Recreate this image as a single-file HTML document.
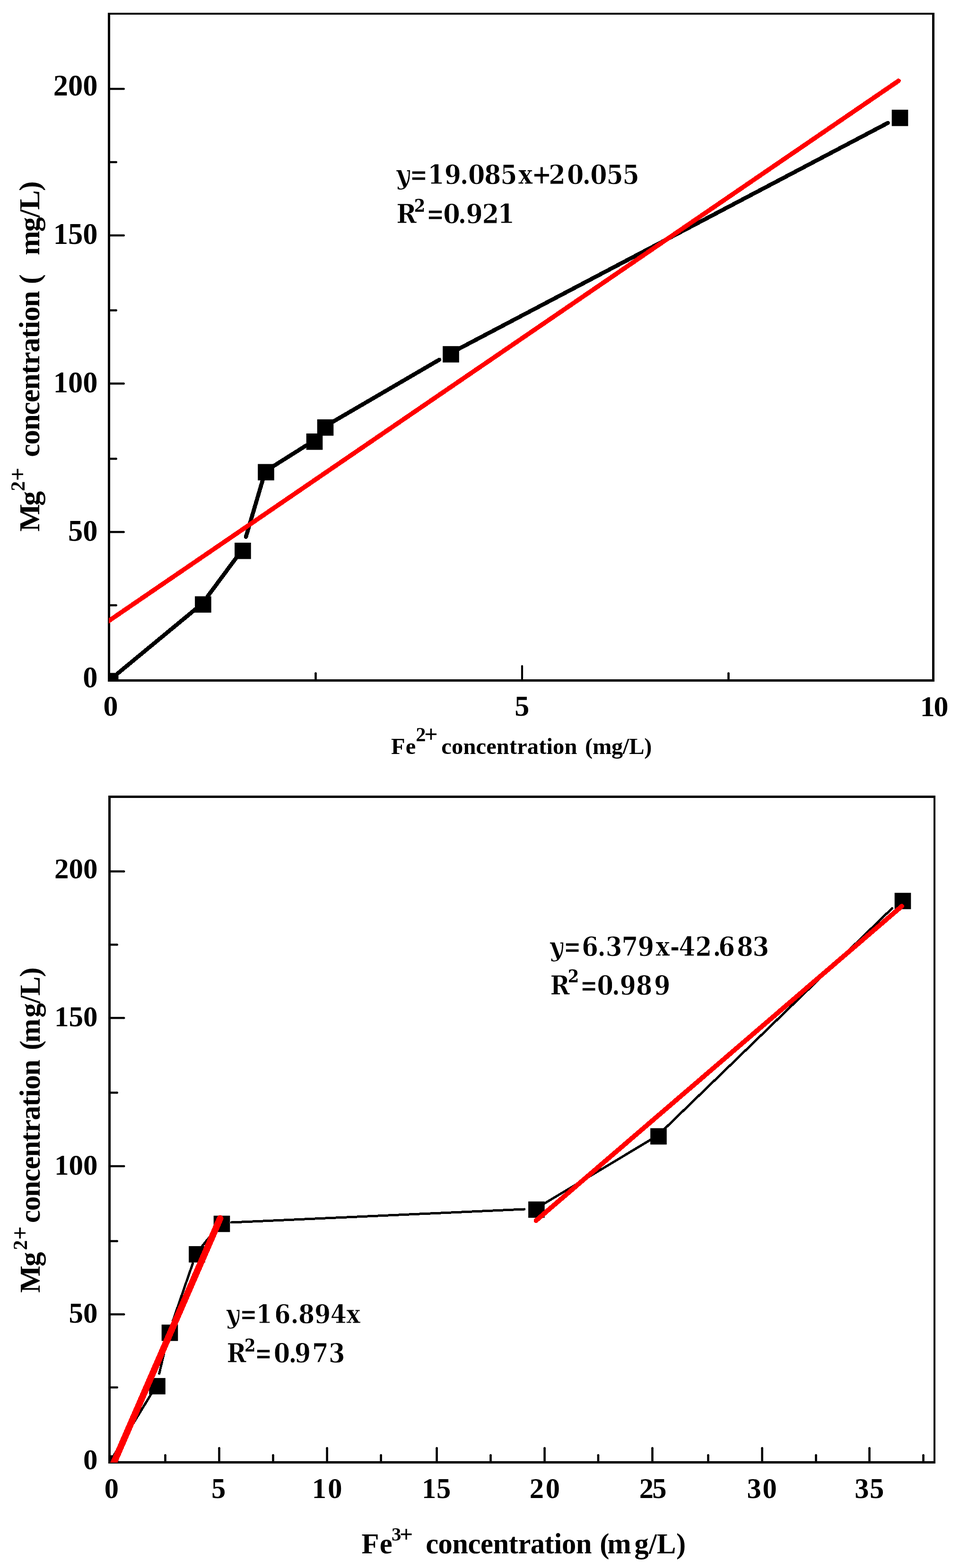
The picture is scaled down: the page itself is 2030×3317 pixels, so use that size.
<!DOCTYPE html>
<html><head><meta charset="utf-8"><title>Mg vs Fe concentration</title><style>html,body{margin:0;padding:0;background:#fff;}svg{display:block;}text{font-kerning:none;}</style></head><body>
<svg width="2030" height="3317" viewBox="0 0 2030 3317">
<rect x="0" y="0" width="2030" height="3317" fill="#fff"/>
<defs><clipPath id="c1"><rect x="230" y="27" width="1746" height="1415"/></clipPath><clipPath id="c2"><rect x="229" y="1683" width="1749" height="1411"/></clipPath></defs>
<rect x="228.00" y="27.00" width="5.00" height="1415.00" fill="#000"/>
<rect x="1971.00" y="27.00" width="5.00" height="1415.00" fill="#000"/>
<rect x="228.00" y="27.00" width="1748.00" height="4.00" fill="#000"/>
<rect x="228.00" y="1437.00" width="1748.00" height="5.00" fill="#000"/>
<rect x="232.00" y="185.80" width="29.80" height="4.40" fill="#000"/>
<circle cx="261.80" cy="188.00" r="2.20" fill="#000"/>
<rect x="232.00" y="495.80" width="29.80" height="4.40" fill="#000"/>
<circle cx="261.80" cy="498.00" r="2.20" fill="#000"/>
<rect x="232.00" y="809.20" width="29.80" height="4.40" fill="#000"/>
<circle cx="261.80" cy="811.40" r="2.20" fill="#000"/>
<rect x="232.00" y="1123.20" width="29.80" height="4.40" fill="#000"/>
<circle cx="261.80" cy="1125.40" r="2.20" fill="#000"/>
<rect x="232.00" y="340.80" width="13.80" height="4.40" fill="#000"/>
<circle cx="245.80" cy="343.00" r="2.20" fill="#000"/>
<rect x="232.00" y="654.30" width="13.80" height="4.40" fill="#000"/>
<circle cx="245.80" cy="656.50" r="2.20" fill="#000"/>
<rect x="232.00" y="968.30" width="13.80" height="4.40" fill="#000"/>
<circle cx="245.80" cy="970.50" r="2.20" fill="#000"/>
<rect x="232.00" y="1278.20" width="13.80" height="4.40" fill="#000"/>
<circle cx="245.80" cy="1280.40" r="2.20" fill="#000"/>
<rect x="1101.90" y="1409.10" width="4.20" height="28.90" fill="#000"/>
<circle cx="1104.00" cy="1409.10" r="2.10" fill="#000"/>
<rect x="665.20" y="1424.30" width="4.60" height="13.70" fill="#000"/>
<circle cx="667.50" cy="1424.30" r="2.30" fill="#000"/>
<rect x="1538.20" y="1424.30" width="4.60" height="13.70" fill="#000"/>
<circle cx="1540.50" cy="1424.30" r="2.30" fill="#000"/>
<text x="112.73 143.98 175.23" y="202.20" font-family="Liberation Serif, serif" font-size="62.50" font-weight="bold">200</text>
<text x="112.73 143.98 175.23" y="516.40" font-family="Liberation Serif, serif" font-size="62.50" font-weight="bold">150</text>
<text x="112.73 143.98 175.23" y="830.40" font-family="Liberation Serif, serif" font-size="62.50" font-weight="bold">100</text>
<text x="143.98 175.23" y="1144.40" font-family="Liberation Serif, serif" font-size="62.50" font-weight="bold">50</text>
<text x="175.23" y="1454.40" font-family="Liberation Serif, serif" font-size="62.50" font-weight="bold">0</text>
<text x="218.44" y="1514.20" font-family="Liberation Serif, serif" font-size="62.00" font-weight="bold">0</text>
<text x="1088.32" y="1514.40" font-family="Liberation Serif, serif" font-size="62.00" font-weight="bold">5</text>
<text x="1945.84 1974.46" y="1514.50" font-family="Liberation Serif, serif" font-size="62.00" font-weight="bold">10</text>
<text x="827.07 857.73" y="1594.90" font-family="Liberation Serif, serif" font-size="48.50" font-weight="bold">Fe</text>
<text x="879.32" y="1567.90" font-family="Liberation Serif, serif" font-size="42.50" font-weight="bold">2</text>
<text x="897.37" y="1570.03" font-family="Liberation Serif, serif" font-size="49.80" font-weight="bold">+</text>
<text x="933.34 955.00 979.39 1006.53 1028.18 1049.83 1076.97 1093.22 1114.87 1139.26 1155.51 1169.07 1193.46" y="1595.00" font-family="Liberation Serif, serif" font-size="48.50" font-weight="bold">concentration</text>
<text x="1236.97 1252.94 1292.89 1316.87 1330.19 1362.18" y="1595.00" font-family="Liberation Serif, serif" font-size="48.50" font-weight="bold">(mg/L)</text>
<text transform="translate(83.00,0) rotate(-90)" x="-1124.56 -1070.09" y="0.00" font-family="Liberation Serif, serif" font-size="62.00" font-weight="bold">Mg</text>
<text transform="translate(83.00,0) rotate(-90)" x="-1039.08" y="-31.10" font-family="Liberation Serif, serif" font-size="42.30" font-weight="bold">2</text>
<text transform="translate(83.00,0) rotate(-90)" x="-1017.54" y="-29.05" font-family="Liberation Serif, serif" font-size="50.00" font-weight="bold">+</text>
<text transform="translate(83.00,0) rotate(-90)" x="-966.87 -940.47 -910.73 -877.65 -851.25 -824.85 -791.77 -771.96 -745.56 -715.82 -696.01 -679.48 -649.74" y="0.00" font-family="Liberation Serif, serif" font-size="62.00" font-weight="bold">concentration</text>
<text transform="translate(83.00,0) rotate(-90)" x="-601.12" y="0.00" font-family="Liberation Serif, serif" font-size="62.00" font-weight="bold">(</text>
<text transform="translate(83.00,0) rotate(-90)" x="-539.97 -490.21 -460.35 -443.76 -403.92" y="0.00" font-family="Liberation Serif, serif" font-size="62.00" font-weight="bold">mg/L)</text>
<g transform="translate(854.34,388.60) skewX(9) translate(-854.34,-388.60)"><text x="839.54" y="388.60" font-family="DejaVu Serif Condensed, DejaVu Serif, serif" font-size="56.60" font-weight="bold" font-style="italic" stroke="#fff" stroke-width="0.8" stroke-linejoin="round">y</text></g>
<g transform="translate(871.50,0) scale(0.88,1) translate(-871.50,0)"><text x="865.71" y="388.60" font-family="DejaVu Serif Condensed, DejaVu Serif, serif" font-size="56.60" font-weight="bold" stroke="#fff" stroke-width="0.8" stroke-linejoin="round">=</text></g>
<text x="904.28 939.64 972.68 990.12 1023.97 1058.23 1096.10 1123.91 1160.20 1199.12 1231.38 1248.32 1282.43 1316.43" y="388.60" font-family="DejaVu Serif Condensed, DejaVu Serif, serif" font-size="56.60" font-weight="bold" stroke="#fff" stroke-width="0.8" stroke-linejoin="round">19.085x+20.055</text>
<text x="838.31" y="472.20" font-family="DejaVu Serif Condensed, DejaVu Serif, serif" font-size="56.91" font-weight="bold" stroke="#fff" stroke-width="0.8" stroke-linejoin="round">R</text>
<text x="875.75" y="448.00" font-family="DejaVu Serif Condensed, DejaVu Serif, serif" font-size="37.47" font-weight="bold">2</text>
<g transform="translate(907.00,0) scale(0.88,1) translate(-907.00,0)"><text x="901.18" y="472.20" font-family="DejaVu Serif Condensed, DejaVu Serif, serif" font-size="56.91" font-weight="bold" stroke="#fff" stroke-width="0.8" stroke-linejoin="round">=</text></g>
<text x="937.31 968.46 985.32 1019.58 1052.55" y="472.20" font-family="DejaVu Serif Condensed, DejaVu Serif, serif" font-size="56.91" font-weight="bold" stroke="#fff" stroke-width="0.8" stroke-linejoin="round">0.921</text>
<line x1="249.11" y1="1424.44" x2="413.29" y2="1288.78" stroke="#000" stroke-width="8.6" stroke-linecap="round" shape-rendering="crispEdges"/>
<line x1="438.83" y1="1261.94" x2="500.97" y2="1178.06" stroke="#000" stroke-width="8.6" stroke-linecap="round" shape-rendering="crispEdges"/>
<line x1="519.99" y1="1135.88" x2="556.45" y2="1012.32" stroke="#000" stroke-width="8.6" stroke-linecap="round" shape-rendering="crispEdges"/>
<line x1="575.94" y1="987.49" x2="648.56" y2="941.71" stroke="#000" stroke-width="8.6" stroke-linecap="round" shape-rendering="crispEdges"/>
<line x1="674.81" y1="917.59" x2="675.19" y2="917.11" stroke="#000" stroke-width="8.6" stroke-linecap="round" shape-rendering="crispEdges"/>
<line x1="701.51" y1="893.64" x2="928.99" y2="760.93" stroke="#000" stroke-width="8.6" stroke-linecap="round" shape-rendering="crispEdges"/>
<line x1="967.10" y1="739.54" x2="1877.40" y2="260.10" stroke="#000" stroke-width="8.6" stroke-linecap="round" shape-rendering="crispEdges"/>
<rect x="228.00" y="1423.50" width="22.50" height="18.50" fill="#000"/>
<rect x="412.10" y="1261.40" width="34.60" height="34.60" fill="#000"/>
<rect x="496.10" y="1148.00" width="34.60" height="34.60" fill="#000"/>
<rect x="545.20" y="981.60" width="34.60" height="34.60" fill="#000"/>
<rect x="647.70" y="917.00" width="34.60" height="34.60" fill="#000"/>
<rect x="670.70" y="887.10" width="34.60" height="34.60" fill="#000"/>
<rect x="936.20" y="732.20" width="34.60" height="34.60" fill="#000"/>
<rect x="1885.70" y="232.10" width="34.60" height="34.60" fill="#000"/>
<g clip-path="url(#c1)">
<line x1="226.00" y1="1316.24" x2="1900.00" y2="171.00" stroke="#f00" stroke-width="9.6" stroke-linecap="round" shape-rendering="crispEdges"/>
</g>
<rect x="229.00" y="1683.00" width="5.00" height="1413.00" fill="#000"/>
<rect x="1974.00" y="1683.00" width="4.00" height="1413.00" fill="#000"/>
<rect x="229.00" y="1683.00" width="1749.00" height="5.00" fill="#000"/>
<rect x="229.00" y="3091.00" width="1749.00" height="5.00" fill="#000"/>
<rect x="233.00" y="1841.20" width="29.30" height="4.40" fill="#000"/>
<circle cx="262.30" cy="1843.40" r="2.20" fill="#000"/>
<rect x="233.00" y="2151.20" width="29.30" height="4.40" fill="#000"/>
<circle cx="262.30" cy="2153.40" r="2.20" fill="#000"/>
<rect x="233.00" y="2464.80" width="29.30" height="4.40" fill="#000"/>
<circle cx="262.30" cy="2467.00" r="2.20" fill="#000"/>
<rect x="233.00" y="2778.20" width="29.30" height="4.40" fill="#000"/>
<circle cx="262.30" cy="2780.40" r="2.20" fill="#000"/>
<rect x="233.00" y="1996.20" width="14.80" height="4.40" fill="#000"/>
<circle cx="247.80" cy="1998.40" r="2.20" fill="#000"/>
<rect x="233.00" y="2309.30" width="14.80" height="4.40" fill="#000"/>
<circle cx="247.80" cy="2311.50" r="2.20" fill="#000"/>
<rect x="233.00" y="2623.30" width="14.80" height="4.40" fill="#000"/>
<circle cx="247.80" cy="2625.50" r="2.20" fill="#000"/>
<rect x="233.00" y="2932.80" width="14.80" height="4.40" fill="#000"/>
<circle cx="247.80" cy="2935.00" r="2.20" fill="#000"/>
<rect x="461.20" y="3063.30" width="4.60" height="28.70" fill="#000"/>
<circle cx="463.50" cy="3063.30" r="2.30" fill="#000"/>
<rect x="689.30" y="3063.30" width="4.60" height="28.70" fill="#000"/>
<circle cx="691.60" cy="3063.30" r="2.30" fill="#000"/>
<rect x="921.30" y="3063.30" width="4.60" height="28.70" fill="#000"/>
<circle cx="923.60" cy="3063.30" r="2.30" fill="#000"/>
<rect x="1149.30" y="3063.30" width="4.60" height="28.70" fill="#000"/>
<circle cx="1151.60" cy="3063.30" r="2.30" fill="#000"/>
<rect x="1377.20" y="3063.30" width="4.60" height="28.70" fill="#000"/>
<circle cx="1379.50" cy="3063.30" r="2.30" fill="#000"/>
<rect x="1609.30" y="3063.30" width="4.60" height="28.70" fill="#000"/>
<circle cx="1611.60" cy="3063.30" r="2.30" fill="#000"/>
<rect x="1836.20" y="3063.30" width="4.60" height="28.70" fill="#000"/>
<circle cx="1838.50" cy="3063.30" r="2.30" fill="#000"/>
<rect x="347.20" y="3078.30" width="4.60" height="13.70" fill="#000"/>
<circle cx="349.50" cy="3078.30" r="2.30" fill="#000"/>
<rect x="575.20" y="3078.30" width="4.60" height="13.70" fill="#000"/>
<circle cx="577.50" cy="3078.30" r="2.30" fill="#000"/>
<rect x="803.30" y="3078.30" width="4.60" height="13.70" fill="#000"/>
<circle cx="805.60" cy="3078.30" r="2.30" fill="#000"/>
<rect x="1035.20" y="3078.30" width="4.60" height="13.70" fill="#000"/>
<circle cx="1037.50" cy="3078.30" r="2.30" fill="#000"/>
<rect x="1262.70" y="3078.30" width="4.60" height="13.70" fill="#000"/>
<circle cx="1265.00" cy="3078.30" r="2.30" fill="#000"/>
<rect x="1495.20" y="3078.30" width="4.60" height="13.70" fill="#000"/>
<circle cx="1497.50" cy="3078.30" r="2.30" fill="#000"/>
<rect x="1723.20" y="3078.30" width="4.60" height="13.70" fill="#000"/>
<circle cx="1725.50" cy="3078.30" r="2.30" fill="#000"/>
<rect x="1950.20" y="3078.30" width="4.60" height="13.70" fill="#000"/>
<circle cx="1952.50" cy="3078.30" r="2.30" fill="#000"/>
<text x="114.92 145.42 175.92" y="1857.80" font-family="Liberation Serif, serif" font-size="61.00" font-weight="bold">200</text>
<text x="114.92 145.42 175.92" y="2171.40" font-family="Liberation Serif, serif" font-size="61.00" font-weight="bold">150</text>
<text x="114.92 145.42 175.92" y="2485.30" font-family="Liberation Serif, serif" font-size="61.00" font-weight="bold">100</text>
<text x="145.42 175.92" y="2798.40" font-family="Liberation Serif, serif" font-size="61.00" font-weight="bold">50</text>
<text x="175.92" y="3108.40" font-family="Liberation Serif, serif" font-size="61.00" font-weight="bold">0</text>
<text x="220.70" y="3168.60" font-family="Liberation Serif, serif" font-size="60.50" font-weight="bold">0</text>
<text x="447.08" y="3168.60" font-family="Liberation Serif, serif" font-size="60.50" font-weight="bold">5</text>
<text x="659.66 693.15" y="3168.60" font-family="Liberation Serif, serif" font-size="60.50" font-weight="bold">10</text>
<text x="892.06 923.07" y="3168.60" font-family="Liberation Serif, serif" font-size="60.50" font-weight="bold">15</text>
<text x="1119.76 1153.75" y="3168.60" font-family="Liberation Serif, serif" font-size="60.50" font-weight="bold">20</text>
<text x="1351.66 1379.27" y="3168.60" font-family="Liberation Serif, serif" font-size="60.50" font-weight="bold">25</text>
<text x="1579.43 1612.55" y="3168.60" font-family="Liberation Serif, serif" font-size="60.50" font-weight="bold">30</text>
<text x="1807.13 1838.97" y="3168.60" font-family="Liberation Serif, serif" font-size="60.50" font-weight="bold">35</text>
<text x="764.46 802.67" y="3285.80" font-family="Liberation Serif, serif" font-size="60.60" font-weight="bold">Fe</text>
<text x="828.06" y="3259.40" font-family="Liberation Serif, serif" font-size="40.92" font-weight="bold">3</text>
<text x="844.89" y="3261.69" font-family="Liberation Serif, serif" font-size="49.40" font-weight="bold">+</text>
<text x="900.13 926.58 956.37 989.51 1015.95 1042.40 1075.54 1095.38 1121.83 1151.62 1171.47 1188.02 1217.81" y="3285.90" font-family="Liberation Serif, serif" font-size="60.60" font-weight="bold">concentration</text>
<text x="1268.34 1284.26" y="3285.90" font-family="Liberation Serif, serif" font-size="60.60" font-weight="bold">(m</text>
<text x="1341.40 1372.02 1389.04 1429.88" y="3285.90" font-family="Liberation Serif, serif" font-size="60.60" font-weight="bold">g/L)</text>
<text transform="translate(83.80,0) rotate(-90)" x="-2734.79 -2678.90" y="0.00" font-family="Liberation Serif, serif" font-size="61.00" font-weight="bold">Mg</text>
<text transform="translate(83.80,0) rotate(-90)" x="-2644.48" y="-26.80" font-family="Liberation Serif, serif" font-size="42.40" font-weight="bold">2</text>
<text transform="translate(83.80,0) rotate(-90)" x="-2622.62" y="-24.89" font-family="Liberation Serif, serif" font-size="49.60" font-weight="bold">+</text>
<text transform="translate(83.80,0) rotate(-90)" x="-2587.08 -2561.15 -2531.93 -2499.42 -2473.48 -2447.54 -2415.04 -2395.58 -2369.64 -2340.42 -2320.96 -2304.72 -2275.50" y="0.00" font-family="Liberation Serif, serif" font-size="61.00" font-weight="bold">concentration</text>
<text transform="translate(83.80,0) rotate(-90)" x="-2221.48 -2205.77" y="0.00" font-family="Liberation Serif, serif" font-size="61.00" font-weight="bold">(m</text>
<text transform="translate(83.80,0) rotate(-90)" x="-2152.41 -2122.72 -2106.23 -2066.63" y="0.00" font-family="Liberation Serif, serif" font-size="61.00" font-weight="bold">g/L)</text>
<g transform="translate(1178.84,2021.60) skewX(9) translate(-1178.84,-2021.60)"><text x="1164.32" y="2021.60" font-family="DejaVu Serif Condensed, DejaVu Serif, serif" font-size="55.53" font-weight="bold" font-style="italic" stroke="#fff" stroke-width="0.8" stroke-linejoin="round">y</text></g>
<g transform="translate(1196.70,0) scale(0.88,1) translate(-1196.70,0)"><text x="1191.01" y="2021.60" font-family="DejaVu Serif Condensed, DejaVu Serif, serif" font-size="55.53" font-weight="bold" stroke="#fff" stroke-width="0.8" stroke-linejoin="round">=</text></g>
<text x="1230.25 1263.56 1280.80 1314.54 1348.49 1386.60 1416.69 1435.54 1470.47 1507.36 1519.35 1558.02 1591.60" y="2021.60" font-family="DejaVu Serif Condensed, DejaVu Serif, serif" font-size="55.53" font-weight="bold" stroke="#fff" stroke-width="0.8" stroke-linejoin="round">6.379x-42.683</text>
<text x="1163.39" y="2104.00" font-family="DejaVu Serif Condensed, DejaVu Serif, serif" font-size="55.12" font-weight="bold" stroke="#fff" stroke-width="0.8" stroke-linejoin="round">R</text>
<text x="1200.75" y="2077.60" font-family="DejaVu Serif Condensed, DejaVu Serif, serif" font-size="37.47" font-weight="bold">2</text>
<g transform="translate(1232.00,0) scale(0.88,1) translate(-1232.00,0)"><text x="1226.35" y="2104.00" font-family="DejaVu Serif Condensed, DejaVu Serif, serif" font-size="55.12" font-weight="bold" stroke="#fff" stroke-width="0.8" stroke-linejoin="round">=</text></g>
<text x="1262.39 1293.79 1310.41 1345.04 1382.91" y="2104.00" font-family="DejaVu Serif Condensed, DejaVu Serif, serif" font-size="55.12" font-weight="bold" stroke="#fff" stroke-width="0.8" stroke-linejoin="round">0.989</text>
<g transform="translate(494.32,2799.30) skewX(9) translate(-494.32,-2799.30)"><text x="480.01" y="2799.30" font-family="DejaVu Serif Condensed, DejaVu Serif, serif" font-size="54.72" font-weight="bold" font-style="italic" stroke="#fff" stroke-width="0.8" stroke-linejoin="round">y</text></g>
<g transform="translate(512.20,0) scale(0.88,1) translate(-512.20,0)"><text x="506.59" y="2799.30" font-family="DejaVu Serif Condensed, DejaVu Serif, serif" font-size="54.72" font-weight="bold" stroke="#fff" stroke-width="0.8" stroke-linejoin="round">=</text></g>
<text x="541.59 580.30 614.42 630.96 664.93 698.67 732.50" y="2799.30" font-family="DejaVu Serif Condensed, DejaVu Serif, serif" font-size="54.72" font-weight="bold" stroke="#fff" stroke-width="0.8" stroke-linejoin="round">16.894x</text>
<text x="479.49" y="2882.20" font-family="DejaVu Serif Condensed, DejaVu Serif, serif" font-size="55.12" font-weight="bold" stroke="#fff" stroke-width="0.8" stroke-linejoin="round">R</text>
<text x="516.95" y="2858.50" font-family="DejaVu Serif Condensed, DejaVu Serif, serif" font-size="37.47" font-weight="bold">2</text>
<g transform="translate(543.80,0) scale(0.88,1) translate(-543.80,0)"><text x="538.15" y="2882.20" font-family="DejaVu Serif Condensed, DejaVu Serif, serif" font-size="55.12" font-weight="bold" stroke="#fff" stroke-width="0.8" stroke-linejoin="round">=</text></g>
<text x="578.69 610.29 622.71 659.97 694.93" y="2882.20" font-family="DejaVu Serif Condensed, DejaVu Serif, serif" font-size="55.12" font-weight="bold" stroke="#fff" stroke-width="0.8" stroke-linejoin="round">0.973</text>
<line x1="239.67" y1="3080.56" x2="322.83" y2="2943.84" stroke="#000" stroke-width="5" stroke-linecap="round" shape-rendering="crispEdges"/>
<line x1="336.80" y1="2905.67" x2="354.28" y2="2831.13" stroke="#000" stroke-width="5" stroke-linecap="round" shape-rendering="crispEdges"/>
<line x1="365.70" y1="2793.74" x2="407.67" y2="2672.56" stroke="#000" stroke-width="5" stroke-linecap="round" shape-rendering="crispEdges"/>
<line x1="425.79" y1="2638.16" x2="456.71" y2="2600.24" stroke="#000" stroke-width="5" stroke-linecap="round" shape-rendering="crispEdges"/>
<line x1="489.30" y1="2586.01" x2="1109.10" y2="2557.98" stroke="#000" stroke-width="5" stroke-linecap="round" shape-rendering="crispEdges"/>
<line x1="1146.34" y1="2548.83" x2="1377.56" y2="2409.97" stroke="#000" stroke-width="5" stroke-linecap="round" shape-rendering="crispEdges"/>
<line x1="1404.06" y1="2389.23" x2="1886.46" y2="1921.40" stroke="#000" stroke-width="5" stroke-linecap="round" shape-rendering="crispEdges"/>
<rect x="229.00" y="3078.50" width="21.50" height="17.50" fill="#000"/>
<rect x="315.20" y="2915.10" width="34.60" height="34.60" fill="#000"/>
<rect x="341.70" y="2802.10" width="34.60" height="34.60" fill="#000"/>
<rect x="399.20" y="2636.10" width="34.60" height="34.60" fill="#000"/>
<rect x="451.70" y="2571.70" width="34.60" height="34.60" fill="#000"/>
<rect x="1117.10" y="2541.60" width="34.60" height="34.60" fill="#000"/>
<rect x="1375.20" y="2386.60" width="34.60" height="34.60" fill="#000"/>
<rect x="1891.70" y="1888.70" width="34.60" height="34.60" fill="#000"/>
<g clip-path="url(#c2)">
<line x1="236.71" y1="3103.17" x2="465.50" y2="2577.50" stroke="#f00" stroke-width="14" stroke-linecap="round" shape-rendering="crispEdges"/>
</g>
<line x1="1133.50" y1="2582.00" x2="1907.00" y2="1917.00" stroke="#f00" stroke-width="10" stroke-linecap="round" shape-rendering="crispEdges"/>
</svg>
</body></html>
